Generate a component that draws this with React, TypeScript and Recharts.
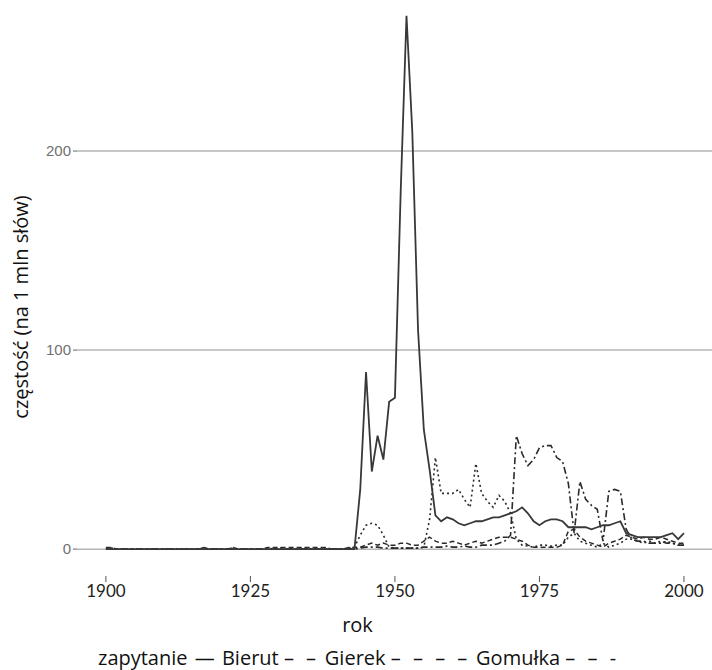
import React from 'react';
import { LineChart, Line, XAxis, YAxis, CartesianGrid } from 'recharts';

// lata 1900–2000
const lata = [
  1900, 1901, 1902, 1903, 1904, 1905, 1906, 1907, 1908, 1909,
  1910, 1911, 1912, 1913, 1914, 1915, 1916, 1917, 1918, 1919,
  1920, 1921, 1922, 1923, 1924, 1925, 1926, 1927, 1928, 1929,
  1930, 1931, 1932, 1933, 1934, 1935, 1936, 1937, 1938, 1939,
  1940, 1941, 1942, 1943, 1944, 1945, 1946, 1947, 1948, 1949,
  1950, 1951, 1952, 1953, 1954, 1955, 1956, 1957, 1958, 1959,
  1960, 1961, 1962, 1963, 1964, 1965, 1966, 1967, 1968, 1969,
  1970, 1971, 1972, 1973, 1974, 1975, 1976, 1977, 1978, 1979,
  1980, 1981, 1982, 1983, 1984, 1985, 1986, 1987, 1988, 1989,
  1990, 1991, 1992, 1993, 1994, 1995, 1996, 1997, 1998, 1999,
  2000,
];

// częstość na 1 mln słów
const bierut = [
  0, 0, 0, 0, 0, 0, 0, 0, 0, 0,
  0, 0, 0, 0, 0, 0, 0, 0, 0, 0,
  0, 0, 0, 0, 0, 0, 0, 0, 0, 0,
  0, 0, 0, 0, 0, 0, 0, 0, 0, 0,
  0, 0, 0, 0, 30, 89, 39, 57, 45, 74,
  76, 180, 268, 210, 110, 60, 40, 17, 14, 16,
  15, 13, 12, 13, 14, 14, 15, 16, 16, 17,
  18, 19, 21, 18, 14, 12, 14, 15, 15, 14,
  11, 11, 11, 11, 10, 11, 12, 12, 13, 14,
  8, 7, 6, 6, 6, 6, 6, 7, 8, 5,
  8,
];

const gierek = [
  0, 0, 0, 0, 0, 0, 0, 0, 0, 0,
  0, 0, 0, 0, 0, 0, 0, 0, 0, 0,
  0, 0, 0, 0, 0, 0, 0, 0, 0, 0,
  0, 0, 0, 0, 0, 0, 0, 0, 0, 0,
  0, 0, 0, 0, 0.5, 1, 1, 1, 0.5, 0.5,
  0.5, 0.5, 0.5, 0.5, 0.5, 1, 1, 1, 1, 1.5,
  1, 1, 1.5, 1, 1, 2, 2, 2, 3, 4,
  7, 57, 48, 42, 45, 51, 52, 52, 46, 44,
  33, 8, 34, 25, 22, 20, 4, 29, 30, 29,
  10, 5, 4, 4, 3, 3, 4, 3, 3, 2,
  2,
];

const gomulka = [
  0.6, 0.6, 0, 0, 0, 0, 0, 0, 0, 0,
  0, 0, 0, 0, 0, 0, 0, 0.6, 0, 0,
  0, 0, 0.6, 0, 0, 0, 0, 0, 0.6, 0,
  0.6, 0, 0.6, 0, 0.6, 0, 0.6, 0, 0.6, 0,
  0, 0, 0.5, 1, 7, 12, 13, 12, 7, 1,
  0.5, 0.5, 0.5, 0.5, 0.5, 1, 15, 46, 28, 28,
  28, 30, 25, 21, 43, 28, 24, 21, 27, 24,
  18, 5, 2, 1.5, 1, 2, 2, 1.5, 2, 2,
  6, 8, 4, 3, 2, 1, 3, 1, 2, 3,
  5, 5, 4, 3, 4, 3, 3, 4, 3, 2,
  2,
];

const czwarta = [
  0.8, 0.8, 0, 0, 0, 0, 0, 0, 0, 0,
  0, 0, 0, 0, 0, 0, 0, 0.8, 0, 0,
  0, 0, 0.8, 0, 0, 0, 0, 0, 0.8, 0.8,
  0.8, 0.8, 0.8, 0.8, 0.8, 0.8, 0.8, 0.8, 0.8, 0,
  0, 0, 0.8, 0.8, 1, 2, 3, 2, 3, 2,
  2, 3, 3, 2, 2, 4, 6, 4, 3, 3,
  4, 3, 2, 3, 4, 3, 4, 5, 6, 6,
  6, 5, 4, 2, 1, 1, 1, 1, 1, 2,
  9, 10, 6, 4, 3, 2, 1, 3, 4, 5,
  7, 6, 5, 6, 5, 5, 6, 5, 4, 3,
  3,
];

const xTicks = [1900, 1925, 1950, 1975, 2000];
const yTicks = [0, 100, 200];

const tytulX = 'rok';
const tytulY = 'częstość (na 1 mln słów)';
// legenda w postaci tekstu: tytuł, a potem pary (nazwa, "kreski")
const legendaTytul = 'zapytanie';
const legendaNazwy = ['Bierut', 'Gierek', 'Gomułka'];
const legendaKreski = ['—', '– –', '– – – –', '– – -'];

const dane = lata.map((rok, i) => ({
  rok,
  Bierut: bierut[i],
  Gierek: gierek[i],
  Gomulka: gomulka[i],
  czwarta: czwarta[i],
}));

const font = 'Lato, "Open Sans", sans-serif';
const fontTytul = '"Open Sans", Lato, sans-serif';

export default function App() {
  return (
    <div style={{ position: 'absolute', left: 0, top: 0, width: 712, height: 670, background: '#fff', overflow: 'hidden' }}>
      <LineChart
        width={712}
        height={670}
        data={dane}
        margin={{ top: 0, right: 0, bottom: 64, left: 0 }}
      >
        <CartesianGrid vertical={false} horizontalValues={yTicks} stroke="#b5b5b5" strokeWidth={1.5} />
        <XAxis
          dataKey="rok"
          type="number"
          domain={[1895, 2004.85]}
          allowDataOverflow
          ticks={xTicks}
          axisLine={false}
          tickLine={{ stroke: '#555', strokeWidth: 1 }}
          tickSize={6}
          tickMargin={3}
          height={30}
          tick={{ fontSize: 17, fill: '#222', fontFamily: font }}
        />
        <YAxis
          type="number"
          domain={[-13.5, 275.9]}
          allowDataOverflow
          ticks={yTicks}
          axisLine={false}
          tickLine={{ stroke: '#999', strokeWidth: 1.5 }}
          tickSize={4}
          tickMargin={2}
          width={77}
          tick={{ fontSize: 15, fill: '#707070', fontFamily: 'Arial, "Liberation Sans", sans-serif' }}
        />
        <Line type="linear" dataKey="czwarta" stroke="#2a2a2a" strokeWidth={1.5} strokeDasharray="5 3" dot={false} isAnimationActive={false} />
        <Line type="linear" dataKey="Gomulka" stroke="#2a2a2a" strokeWidth={1.6} strokeDasharray="2 3" dot={false} isAnimationActive={false} />
        <Line type="linear" dataKey="Gierek" stroke="#2a2a2a" strokeWidth={1.6} strokeDasharray="7 3 2 3" dot={false} isAnimationActive={false} />
        <Line type="linear" dataKey="Bierut" stroke="#383838" strokeWidth={1.8} dot={false} isAnimationActive={false} />
      </LineChart>

      <div style={{ position: 'absolute', left: 21, top: 307, transform: 'translate(-50%, -50%) rotate(-90deg)', whiteSpace: 'nowrap', fontFamily: fontTytul, fontSize: 20, color: '#111', lineHeight: 1 }}>
        {tytulY}
      </div>
      <div style={{ position: 'absolute', left: 0, width: 715, top: 611, textAlign: 'center', fontFamily: fontTytul, fontSize: 20, color: '#111', lineHeight: 'normal' }}>
        {tytulX}
      </div>
      <div style={{ position: 'absolute', left: 98, top: 644, fontFamily: fontTytul, fontSize: 20, color: '#111', lineHeight: 'normal', whiteSpace: 'nowrap' }}>
        {legendaTytul}{' '}
        <span style={{ margin: '0 2px' }}>{legendaKreski[0]}</span>{' '}
        {legendaNazwy.map((n, i) => (
          <React.Fragment key={n}>
            {n}{' '}
            <span style={{ letterSpacing: 3.5 }}>{legendaKreski[i + 1]}</span>
            {i < legendaNazwy.length - 1 ? ' ' : ''}
          </React.Fragment>
        ))}
      </div>
    </div>
  );
}
